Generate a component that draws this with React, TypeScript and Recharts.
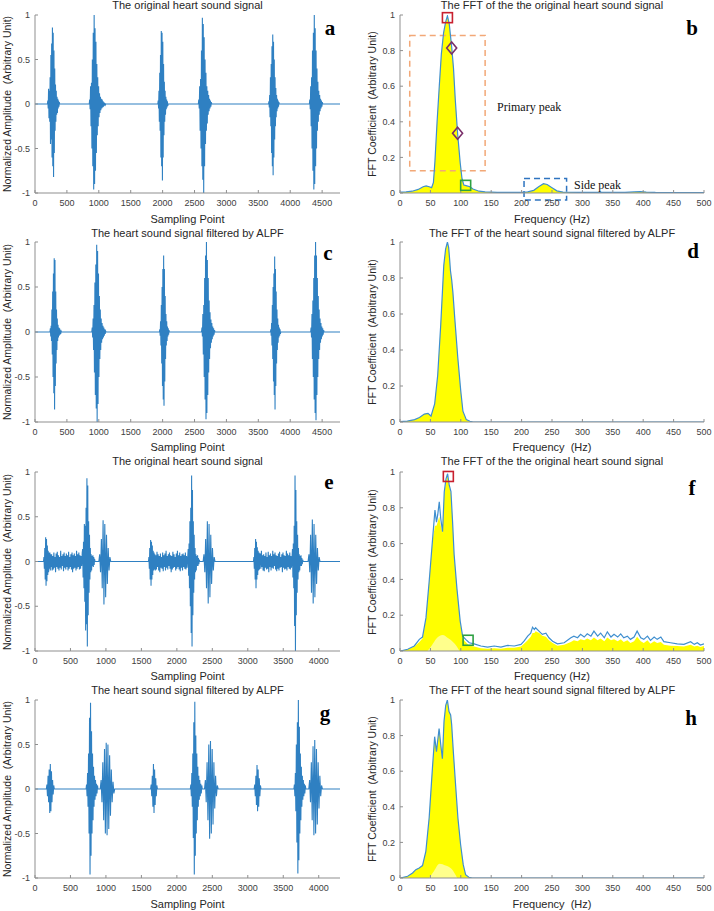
import React from 'react';
import { ComposedChart, Line, Area, XAxis, YAxis, ReferenceArea, ReferenceDot } from 'recharts';

type Burst = { start: number; step: number; amps: number[] };

// ---------- time-domain signals (burst start sample, spacing, peak amplitudes) ----------
const aBursts: Burst[] = [
  { start: 195, step: 6, amps: [0, 0.04, -0.05, 0.17, -0.16, 0.15, -0.2, 0.3, -0.45, 0.55, -0.4, 0.68, -0.6, 0.86, -0.7, 0.8, -0.82, 0.6, -0.55, 0.4, -0.3, 0.22, -0.2, 0.15, -0.12, 0.08, -0.1, 0.06, -0.05, 0.04, -0.03, 0.02, 0] },
  { start: 850, step: 7, amps: [0, 0.05, -0.06, 0.2, -0.25, 0.24, -0.5, 0.5, -0.7, 0.8, -0.96, 1.0, -0.9, 0.85, -0.75, 0.7, -0.55, 0.45, -0.35, 0.3, -0.25, 0.2, -0.15, 0.12, -0.1, 0.08, -0.07, 0.06, -0.05, 0.05, -0.04, 0.03, -0.03, 0.02, -0.02, 0.01, -0.01, 0] },
  { start: 1925, step: 6, amps: [0, 0.04, -0.05, 0.15, -0.2, 0.35, -0.3, 0.55, -0.6, 0.82, -0.7, 0.8, -0.86, 0.7, -0.6, 0.45, -0.35, 0.25, -0.2, 0.15, -0.12, 0.08, -0.06, 0.05, -0.04, 0.03, -0.02, 0] },
  { start: 2560, step: 7, amps: [0, 0.05, -0.05, 0.2, -0.3, 0.28, -0.5, 0.6, -0.7, 0.97, -0.85, 0.9, -1.0, 0.75, -0.7, 0.5, -0.45, 0.35, -0.3, 0.2, -0.22, 0.15, -0.12, 0.1, -0.08, 0.06, -0.05, 0.04, -0.03, 0.02, 0] },
  { start: 3660, step: 6, amps: [0, 0.03, -0.04, 0.1, -0.15, 0.3, -0.25, 0.45, -0.55, 0.65, -0.7, 0.78, -0.8, 0.7, -0.6, 0.5, -0.4, 0.3, -0.25, 0.18, -0.15, 0.1, -0.08, 0.06, -0.05, 0.04, -0.03, 0.02, 0] },
  { start: 4300, step: 7, amps: [0, 0.05, -0.06, 0.2, -0.25, 0.3, -0.5, 0.6, -0.75, 0.8, -0.96, 1.0, -0.9, 0.85, -0.7, 0.6, -0.5, 0.4, -0.3, 0.25, -0.2, 0.15, -0.12, 0.1, -0.08, 0.06, -0.05, 0.04, -0.03, 0.02, 0] },
];

const cBursts: Burst[] = [
  { start: 235, step: 6, amps: [0, 0.04, -0.05, 0.07, -0.1, 0.25, -0.25, 0.45, -0.5, 0.65, -0.68, 0.82, -0.86, 0.8, -0.6, 0.45, -0.35, 0.25, -0.2, 0.15, -0.1, 0.08, -0.06, 0.05, -0.04, 0.04, -0.03, 0.02, -0.02, 0.01, 0] },
  { start: 890, step: 7, amps: [0, 0.05, -0.06, 0.15, -0.2, 0.3, -0.45, 0.55, -0.7, 0.75, -0.85, 0.97, -1.0, 0.9, -0.8, 0.65, -0.5, 0.4, -0.3, 0.25, -0.2, 0.15, -0.12, 0.1, -0.08, 0.07, -0.06, 0.05, -0.04, 0.03, -0.02, 0.01, 0] },
  { start: 1950, step: 6, amps: [0, 0.03, -0.04, 0.12, -0.15, 0.3, -0.35, 0.5, -0.6, 0.7, -0.75, 0.85, -0.82, 0.7, -0.55, 0.4, -0.3, 0.2, -0.15, 0.12, -0.1, 0.06, -0.05, 0.04, -0.03, 0.02, 0] },
  { start: 2610, step: 7, amps: [0, 0.05, -0.05, 0.2, -0.25, 0.3, -0.5, 0.6, -0.75, 0.85, -0.97, 1.0, -0.9, 0.8, -0.7, 0.6, -0.45, 0.35, -0.3, 0.22, -0.18, 0.14, -0.12, 0.1, -0.08, 0.06, -0.05, 0.04, -0.03, 0.02, 0] },
  { start: 3690, step: 6, amps: [0, 0.03, -0.04, 0.1, -0.15, 0.3, -0.3, 0.5, -0.55, 0.65, -0.7, 0.84, -0.86, 0.7, -0.6, 0.45, -0.35, 0.25, -0.2, 0.15, -0.12, 0.08, -0.06, 0.05, -0.04, 0.03, -0.02, 0] },
  { start: 4320, step: 7, amps: [0, 0.05, -0.06, 0.2, -0.3, 0.35, -0.5, 0.6, -0.75, 0.85, -0.9, 1.0, -0.98, 0.85, -0.7, 0.6, -0.5, 0.4, -0.3, 0.25, -0.2, 0.15, -0.12, 0.1, -0.08, 0.06, -0.05, 0.04, -0.03, 0.02, 0] },
];

const eNoise1 = [0.08, -0.1, 0.06, -0.09, 0.1, -0.07, 0.05, -0.12, 0.09, -0.06, 0.11, -0.08, 0.07, -0.1, 0.05, -0.07, 0.12, -0.09, 0.06, -0.05, 0.08, -0.11, 0.1, -0.07, 0.06, -0.09, 0.09, -0.06, 0.07, -0.1, 0.11, -0.08, 0.05, -0.06, 0.08, -0.09, 0.1, -0.12, 0.07, -0.08, 0.09, -0.07, 0.06, -0.1, 0.12, -0.08, 0.08, -0.06, 0.1, -0.09, 0.07, -0.08, 0.06, -0.05, 0.1];
const eNoise2 = [-0.1, 0.07, -0.09, 0.11, -0.06, 0.08, -0.1, 0.06, -0.12, 0.09, -0.07, 0.05, -0.08, 0.1, -0.11, 0.07, -0.06, 0.09, -0.1, 0.12, -0.07, 0.06, -0.09, 0.08, -0.05, 0.1, -0.08, 0.07, -0.12, 0.06, -0.09, 0.11, -0.07, 0.08, -0.06, 0.05, -0.1, 0.09, -0.08, 0.12, -0.06, 0.07, -0.09, 0.1, -0.11, 0.06, -0.07, 0.08, -0.1, 0.09, -0.06, 0.07, -0.08, 0.1, -0.09, 0.06, -0.07];
const eNoise3 = [0.09, -0.08, 0.12, -0.06, 0.07, -0.1, 0.08, -0.11, 0.06, -0.07, 0.1, -0.09, 0.05, -0.08, 0.11, -0.12, 0.07, -0.06, 0.09, -0.1, 0.06, -0.07, 0.12, -0.08, 0.08, -0.05, 0.1, -0.09, 0.07, -0.11, 0.06, -0.08, 0.09, -0.1, 0.11, -0.07, 0.05, -0.06, 0.08, -0.12, 0.1, -0.07, 0.07, -0.09, 0.06, -0.08, 0.12, -0.1, 0.09, -0.06, 0.07, -0.08, 0.1, -0.09, 0.06, -0.07];

const eBursts: Burst[] = [
  { start: 120, step: 6, amps: [0, 0.05, -0.08, 0.15, -0.2, 0.27, -0.27, 0.25, -0.22, 0.18, -0.15, 0.12, -0.12, 0.1, -0.08, 0.1, -0.1, 0.08, -0.06] },
  { start: 234, step: 8, amps: eNoise1 },
  { start: 672, step: 6, amps: [0.14, -0.18, 0.22, -0.3, 0.42, -0.45, 0.4, -0.77, 0.6, -0.7, 0.93, -0.95, 0.85, -0.6, 0.45, -0.35, 0.3, -0.2, 0.15, -0.12, 0.08, -0.1, 0.06, -0.05, 0.07, -0.06, 0.05, -0.04, 0.03, 0] },
  { start: 900, step: 12, amps: [0, 0.08, -0.12, 0.25, -0.3, 0.46, -0.48, 0.42, -0.4, 0.3, -0.25, 0.15, -0.1, 0.05, 0] },
  { start: 1600, step: 6, amps: [0, 0.05, -0.08, 0.15, -0.2, 0.24, -0.27, 0.22, -0.2, 0.18, -0.15, 0.12, -0.1, 0.1, -0.09, 0.08] },
  { start: 1696, step: 8, amps: eNoise2 },
  { start: 2160, step: 6, amps: [0.14, -0.16, 0.2, -0.3, 0.45, -0.5, 0.6, -0.8, 0.96, -0.95, 0.8, -0.6, 0.45, -0.35, 0.3, -0.2, 0.15, -0.12, 0.08, -0.1, 0.06, -0.05, 0.07, -0.05, 0.04, -0.03, 0.02, 0] },
  { start: 2370, step: 12, amps: [0, 0.08, -0.12, 0.25, -0.3, 0.45, -0.47, 0.42, -0.4, 0.3, -0.25, 0.15, -0.1, 0.05, 0] },
  { start: 3080, step: 6, amps: [0, 0.05, -0.08, 0.15, -0.2, 0.25, -0.3, 0.22, -0.2, 0.16, -0.15, 0.12, -0.1, 0.1, -0.09, 0.08] },
  { start: 3176, step: 8, amps: eNoise3 },
  { start: 3630, step: 6, amps: [0.14, -0.18, 0.2, -0.3, 0.4, -0.72, 0.96, -1.0, 0.8, -0.6, 0.45, -0.35, 0.3, -0.2, 0.15, -0.12, 0.08, -0.1, 0.06, -0.05, 0.07, -0.05, 0.04, -0.03, 0.02, 0] },
  { start: 3850, step: 12, amps: [0, 0.08, -0.12, 0.3, -0.35, 0.47, -0.47, 0.42, -0.4, 0.3, -0.25, 0.15, -0.1, 0.05, 0] },
];

const gBursts: Burst[] = [
  { start: 160, step: 8, amps: [0, 0.05, -0.08, 0.15, -0.15, 0.22, -0.27, 0.28, -0.25, 0.2, -0.15, 0.1, -0.06, 0.04, 0] },
  { start: 720, step: 7, amps: [0, 0.05, -0.08, 0.18, -0.2, 0.4, -0.5, 0.8, -0.96, 0.97, -0.75, 0.65, -0.5, 0.4, -0.35, 0.25, -0.2, 0.15, -0.12, 0.1, -0.08, 0.06, -0.05, 0.04, 0] },
  { start: 920, step: 12, amps: [0, 0.1, -0.15, 0.3, -0.35, 0.45, -0.5, 0.52, -0.52, 0.5, -0.45, 0.38, -0.3, 0.22, -0.15, 0.08, -0.05, 0] },
  { start: 1630, step: 8, amps: [0, 0.05, -0.08, 0.15, -0.2, 0.28, -0.27, 0.22, -0.18, 0.12, -0.08, 0.04, 0] },
  { start: 2190, step: 7, amps: [0, 0.05, -0.08, 0.18, -0.2, 0.4, -0.55, 0.75, -0.96, 0.98, -0.75, 0.6, -0.5, 0.4, -0.35, 0.25, -0.2, 0.15, -0.12, 0.1, -0.08, 0.06, -0.05, 0.04, 0] },
  { start: 2390, step: 12, amps: [0, 0.1, -0.15, 0.3, -0.35, 0.5, -0.56, 0.54, -0.5, 0.45, -0.4, 0.3, -0.22, 0.15, -0.08, 0.04, 0] },
  { start: 3090, step: 8, amps: [0, 0.05, -0.08, 0.15, -0.18, 0.27, -0.25, 0.22, -0.2, 0.12, -0.08, 0.04, 0] },
  { start: 3650, step: 7, amps: [0, 0.05, -0.08, 0.18, -0.25, 0.5, -0.6, 0.75, -0.95, 1.0, -0.8, 0.7, -0.5, 0.4, -0.35, 0.25, -0.2, 0.15, -0.12, 0.1, -0.08, 0.06, -0.05, 0.04, 0] },
  { start: 3860, step: 12, amps: [0, 0.1, -0.15, 0.3, -0.35, 0.48, -0.52, 0.55, -0.5, 0.45, -0.4, 0.3, -0.22, 0.15, -0.08, 0.04, 0] },
];

const acXMax = 4780;
const egXMax = 4300;
const acTicks = [0, 500, 1000, 1500, 2000, 2500, 3000, 3500, 4000, 4500];
const egTicks = [0, 500, 1000, 1500, 2000, 2500, 3000, 3500, 4000];
const sigYTicks = [-1, -0.5, 0, 0.5, 1];

// ---------- spectra: [frequency Hz, envelope, yellow fill] ----------
const bSpec: number[][] = [
  [0, 0.005], [10, 0.006], [20, 0.01], [30, 0.02], [38, 0.035], [43, 0.04], [48, 0.035], [52, 0.03], [55, 0.06], [57.5, 0.18], [61, 0.4], [64.6, 0.6], [68, 0.78], [71.7, 0.9], [75, 0.96], [78, 0.995], [81, 0.95], [85, 0.82], [88, 0.7], [91, 0.52], [94.7, 0.336], [99, 0.17], [102, 0.08], [105, 0.045], [110, 0.04], [115, 0.035], [120, 0.022], [130, 0.01], [140, 0.006], [160, 0.004], [200, 0.004], [210, 0.006], [220, 0.015], [228, 0.035], [236, 0.052], [242, 0.048], [250, 0.03], [258, 0.012], [268, 0.005], [300, 0.003], [370, 0.003], [385, 0.006], [395, 0.008], [405, 0.005], [420, 0.003], [500, 0.002],
];
const dSpec: number[][] = [
  [0, 0.002], [12, 0.005], [24, 0.013], [32, 0.025], [40, 0.044], [46, 0.048], [51, 0.033], [57, 0.1], [62, 0.26], [67, 0.54], [72, 0.87], [75, 0.96], [78, 1.0], [80, 0.97], [81.5, 0.91], [83, 0.84], [85, 0.79], [87, 0.72], [90, 0.58], [95, 0.36], [100, 0.17], [103.5, 0.06], [109, 0.013], [115, 0.004], [120, 0], [500, 0],
];
const fSpec: number[][] = [
  [0, 0, 0], [12.6, 0.01, 0.01], [23.5, 0.028, 0.025], [31.8, 0.065, 0.05], [37, 0.078, 0.07], [42.7, 0.185, 0.18], [48, 0.39, 0.39], [53.7, 0.63, 0.62], [57.5, 0.787, 0.7], [60, 0.72, 0.7], [62, 0.76, 0.72], [64.6, 0.833, 0.75], [67, 0.74, 0.7], [70, 0.667, 0.66], [72.8, 0.89, 0.88], [75.6, 0.96, 0.95], [78.3, 0.99, 0.98], [81, 0.926, 0.92], [83.8, 0.89, 0.88], [86.5, 0.72, 0.72], [89, 0.54, 0.54], [93.6, 0.35, 0.35], [99, 0.167, 0.16], [103, 0.083, 0.07], [108, 0.065, 0.05], [114, 0.046, 0.03], [122, 0.04, 0.025], [133, 0.028, 0.015], [144, 0.022, 0.012], [155, 0.028, 0.015], [166, 0.022, 0.012], [177, 0.031, 0.018], [188, 0.028, 0.018], [199, 0.037, 0.025], [204, 0.055, 0.04], [210, 0.083, 0.06], [215, 0.1, 0.08], [218, 0.133, 0.1], [221, 0.12, 0.1], [223, 0.13, 0.11], [229, 0.11, 0.1], [234, 0.093, 0.085], [240, 0.1, 0.08], [245, 0.074, 0.06], [251, 0.055, 0.045], [259, 0.04, 0.03], [270, 0.046, 0.035], [281, 0.074, 0.05], [286, 0.083, 0.06], [292, 0.074, 0.055], [297, 0.093, 0.065], [303, 0.078, 0.06], [308, 0.096, 0.07], [314, 0.083, 0.06], [319, 0.111, 0.075], [325, 0.083, 0.06], [330, 0.1, 0.07], [336, 0.074, 0.055], [341, 0.107, 0.075], [347, 0.078, 0.06], [352, 0.093, 0.065], [358, 0.078, 0.055], [363, 0.096, 0.065], [368, 0.074, 0.05], [374, 0.083, 0.06], [379, 0.065, 0.045], [385, 0.078, 0.055], [390, 0.111, 0.08], [396, 0.074, 0.055], [401, 0.065, 0.045], [407, 0.083, 0.06], [412, 0.059, 0.04], [418, 0.078, 0.055], [423, 0.065, 0.045], [429, 0.078, 0.05], [434, 0.052, 0.035], [445, 0.046, 0.03], [456, 0.04, 0.028], [467, 0.037, 0.025], [478, 0.052, 0.035], [484, 0.037, 0.025], [489, 0.046, 0.03], [494, 0.033, 0.022], [500, 0.04, 0.028],
];
const hSpec: number[][] = [
  [0, 0], [12.5, 0.01], [20.7, 0.028], [26, 0.047], [31.6, 0.056], [37, 0.07], [42.5, 0.15], [48, 0.34], [53.4, 0.62], [57, 0.794], [60, 0.71], [61.5, 0.757], [64.3, 0.84], [67, 0.75], [69.7, 0.67], [72.4, 0.88], [75.2, 0.97], [77.9, 1.0], [80.6, 0.935], [83.3, 0.916], [85, 0.86], [87.7, 0.71], [91.5, 0.52], [95.3, 0.336], [99.7, 0.187], [104, 0.075], [107.9, 0.019], [113.3, 0.004], [118.7, 0], [500, 0],
];
// pale inner streak region at the base of the main peak
const fInner: number[][] = [[45, 0], [52, 0.03], [60, 0.07], [70, 0.09], [80, 0.07], [90, 0.04], [98, 0]];
const hInner: number[][] = [[48, 0], [56, 0.04], [65, 0.08], [75, 0.07], [85, 0.05], [94, 0]];

const fftTicks = [0, 50, 100, 150, 200, 250, 300, 350, 400, 450, 500];
const fftYTicks = [0, 0.2, 0.4, 0.6, 0.8, 1];

// annotation marks (frequency, value)
const bRedSquares = [[78, 0.985]];
const bDiamonds = [[85, 0.815], [94.7, 0.336]];
const bGreenSquares = [[108, 0.043]];
const fRedSquares = [[79.5, 0.975]];
const fGreenSquares = [[112, 0.06]];
const bPrimaryBox = { x1: 16, x2: 140, y1: 0.125, y2: 0.885 };
const bSideBox = { x1: 204, x2: 274, y1: -0.04, y2: 0.082 };

// ---------- helpers ----------
function expand(bursts: Burst[], xMax: number) {
  const pts: { x: number; y: number }[] = [{ x: 0, y: 0 }];
  bursts.forEach((b) => b.amps.forEach((a, i) => pts.push({ x: b.start + i * b.step, y: a })));
  pts.push({ x: xMax, y: 0 });
  return pts;
}
function specRows(spec: number[][]) {
  return spec.map((r) => ({ x: r[0], v: r[1], y: r.length > 2 ? r[2] : r[1] }));
}

const SANS = '"Liberation Sans", Arial, Helvetica, sans-serif';
const SERIF = '"Liberation Serif", "Times New Roman", serif';
const AXIS = '#8f8f8f';
const SIG_BLUE = '#2f80c2';
const FFT_BLUE = '#3f8fcf';

const ML = 40, MR = 10, MT = 6, MB = 28;

function Frame(props: {
  left: number; top: number; w: number; h: number;
  xDomain: number[]; xTicks: number[]; yDomain: number[]; yTicks: number[];
  children: React.ReactNode;
}) {
  const { left, top, w, h, xDomain, xTicks, yDomain, yTicks, children } = props;
  const tickStyle = { fontSize: 9, fill: '#404040', fontFamily: SANS };
  return (
    <div style={{ position: 'absolute', left: left - ML, top: top - MT }}>
      <ComposedChart width={w + ML + MR} height={h + MT + MB} margin={{ top: MT, right: MR, bottom: 0, left: 0 }}>
        <XAxis type="number" dataKey="x" domain={xDomain} ticks={xTicks} interval={0} allowDataOverflow
          orientation="bottom" height={MB} stroke={AXIS} tickSize={-3} tickMargin={10} tick={tickStyle} />
        <XAxis xAxisId="top" type="number" dataKey="x" domain={xDomain} ticks={xTicks} interval={0} allowDataOverflow
          orientation="top" height={0} stroke={AXIS} tickSize={-3} tickFormatter={() => ''} />
        <YAxis type="number" domain={yDomain} ticks={yTicks} interval={0} allowDataOverflow
          width={ML} stroke={AXIS} tickSize={-3} tickMargin={8} tick={tickStyle} tickFormatter={(v: number) => String(v)} />
        <YAxis yAxisId="right" orientation="right" type="number" domain={yDomain} ticks={yTicks} interval={0} allowDataOverflow
          width={0} stroke={AXIS} tickSize={-3} tickFormatter={() => ''} />
        {children}
      </ComposedChart>
    </div>
  );
}

const squareShape = (color: string) => (p: any) => (
  <rect x={p.cx - 5} y={p.cy - 5} width={10} height={10} fill="none" stroke={color} strokeWidth={1.6} />
);
const diamondShape = (color: string) => (p: any) => (
  <polygon points={`${p.cx},${p.cy - 6} ${p.cx + 5},${p.cy} ${p.cx},${p.cy + 6} ${p.cx - 5},${p.cy}`} fill="none" stroke={color} strokeWidth={1.6} />
);

function Txt(props: { x: number; y: number; text: string; size?: number; family?: string; weight?: number; anchor?: 'middle' | 'start' | 'end'; rotate?: boolean; color?: string }) {
  const { x, y, text, size = 10.5, family = SANS, weight = 400, anchor = 'middle', rotate = false, color = '#262626' } = props;
  const tx = anchor === 'middle' ? '-50%' : anchor === 'end' ? '-100%' : '0';
  return (
    <div style={{
      position: 'absolute', left: x, top: y, whiteSpace: 'pre', fontSize: size, fontFamily: family, fontWeight: weight,
      color, lineHeight: 1, transform: rotate ? 'translate(-50%,-50%) rotate(-90deg)' : `translate(${tx},-50%)`,
    }}>{text}</div>
  );
}

const LX = 35, LW = 305, RX = 400, RW = 304;
const rows = [
  { top: 15, h: 178 },
  { top: 242, h: 180 },
  { top: 472, h: 179 },
  { top: 700, h: 178 },
];

function SignalPanel({ row, data, xMax, xTicks }: { row: number; data: { x: number; y: number }[]; xMax: number; xTicks: number[] }) {
  const r = rows[row];
  return (
    <Frame left={LX} top={r.top} w={LW} h={r.h} xDomain={[0, xMax]} xTicks={xTicks} yDomain={[-1, 1]} yTicks={sigYTicks}>
      <Line data={data} dataKey="y" type="linear" dot={false} stroke={SIG_BLUE} strokeWidth={1.1} isAnimationActive={false} />
    </Frame>
  );
}

function SpecPanel({ row, spec, inner, children }: { row: number; spec: number[][]; inner?: number[][]; children?: React.ReactNode }) {
  const r = rows[row];
  const rowsData = specRows(spec);
  const innerData = inner ? inner.map((p) => ({ x: p[0], y: p[1] })) : null;
  return (
    <Frame left={RX} top={r.top} w={RW} h={r.h} xDomain={[0, 500]} xTicks={fftTicks} yDomain={[0, 1]} yTicks={fftYTicks}>
      <Area data={rowsData} dataKey="y" type="linear" fill="#ffff00" fillOpacity={1} stroke="none" baseValue={0} isAnimationActive={false} />
      {innerData && (
        <Area data={innerData} dataKey="y" type="monotone" fill="#ffffff" fillOpacity={0.55} stroke="none" baseValue={0} isAnimationActive={false} />
      )}
      <Line data={rowsData} dataKey="v" type="linear" dot={false} stroke={FFT_BLUE} strokeWidth={1.2} isAnimationActive={false} />
      {children}
    </Frame>
  );
}

export default function App() {
  const aData = expand(aBursts, acXMax);
  const cData = expand(cBursts, acXMax);
  const eData = expand(eBursts, egXMax);
  const gData = expand(gBursts, egXMax);

  const leftTitles = ['The original heart sound signal', 'The heart sound signal filtered by ALPF', 'The original heart sound signal', 'The heart sound signal filtered by ALPF'];
  const rightTitles = ['The FFT of the the original heart sound signal', 'The FFT of the heart sound signal filtered by ALPF', 'The FFT of the the original heart sound signal', 'The FFT of the heart sound signal filtered by ALPF'];
  const rightXLabels = ['Frequency (Hz)', 'Frequency  (Hz)', 'Frequency (Hz)', 'Frequency  (Hz)'];
  const titleY = [5, 233, 461, 690];
  const xLabelY = [219, 447, 676, 904];
  const leftLetters = [{ t: 'a', x: 330, y: 28 }, { t: 'c', x: 328, y: 253 }, { t: 'e', x: 329, y: 482 }, { t: 'g', x: 325, y: 713 }];
  const rightLetters = [{ t: 'b', x: 692, y: 28 }, { t: 'd', x: 693, y: 251 }, { t: 'f', x: 692, y: 488 }, { t: 'h', x: 691, y: 718 }];

  return (
    <div style={{ position: 'absolute', left: 0, top: 0, width: 714, height: 911, background: '#ffffff', overflow: 'hidden' }}>
      <SignalPanel row={0} data={aData} xMax={acXMax} xTicks={acTicks} />
      <SignalPanel row={1} data={cData} xMax={acXMax} xTicks={acTicks} />
      <SignalPanel row={2} data={eData} xMax={egXMax} xTicks={egTicks} />
      <SignalPanel row={3} data={gData} xMax={egXMax} xTicks={egTicks} />

      <SpecPanel row={0} spec={bSpec}>
        <ReferenceArea {...bPrimaryBox} fill="none" fillOpacity={0} stroke="#f2a877" strokeWidth={1.5} strokeDasharray="6 4" ifOverflow="visible" />
        <ReferenceArea {...bSideBox} fill="none" fillOpacity={0} stroke="#2f74c0" strokeWidth={1.5} strokeDasharray="6 4" ifOverflow="visible" />
        {bRedSquares.map((p, i) => <ReferenceDot key={'r' + i} x={p[0]} y={p[1]} r={5} ifOverflow="visible" shape={squareShape('#c8202f')} />)}
        {bDiamonds.map((p, i) => <ReferenceDot key={'d' + i} x={p[0]} y={p[1]} r={5} ifOverflow="visible" shape={diamondShape('#7a2f6a')} />)}
        {bGreenSquares.map((p, i) => <ReferenceDot key={'g' + i} x={p[0]} y={p[1]} r={5} ifOverflow="visible" shape={squareShape('#2ea043')} />)}
      </SpecPanel>
      <SpecPanel row={1} spec={dSpec} />
      <SpecPanel row={2} spec={fSpec} inner={fInner}>
        {fRedSquares.map((p, i) => <ReferenceDot key={'r' + i} x={p[0]} y={p[1]} r={5} ifOverflow="visible" shape={squareShape('#c8202f')} />)}
        {fGreenSquares.map((p, i) => <ReferenceDot key={'g' + i} x={p[0]} y={p[1]} r={5} ifOverflow="visible" shape={squareShape('#2ea043')} />)}
      </SpecPanel>
      <SpecPanel row={3} spec={hSpec} inner={hInner} />

      {rows.map((r, i) => (
        <React.Fragment key={i}>
          <Txt x={LX + LW / 2} y={titleY[i]} text={leftTitles[i]} size={11} />
          <Txt x={RX + RW / 2} y={titleY[i]} text={rightTitles[i]} size={11} />
          <Txt x={LX + LW / 2} y={xLabelY[i]} text="Sampling Point" size={11} />
          <Txt x={RX + RW / 2} y={xLabelY[i]} text={rightXLabels[i]} size={11} />
          <Txt x={7} y={r.top + r.h / 2} text="Normalized Amplitude  (Arbitrary Unit)" size={10.5} rotate />
          <Txt x={372} y={r.top + r.h / 2} text="FFT Coefficient  (Arbitrary Unit)" size={10.5} rotate />
          <Txt x={leftLetters[i].x} y={leftLetters[i].y} text={leftLetters[i].t} size={21} family={SERIF} weight={700} color="#000" />
          <Txt x={rightLetters[i].x} y={rightLetters[i].y} text={rightLetters[i].t} size={21} family={SERIF} weight={700} color="#000" />
        </React.Fragment>
      ))}
      <Txt x={497} y={107} text="Primary peak" size={12} family={SERIF} anchor="start" color="#111" />
      <Txt x={574} y={185} text="Side peak" size={12} family={SERIF} anchor="start" color="#111" />
    </div>
  );
}
